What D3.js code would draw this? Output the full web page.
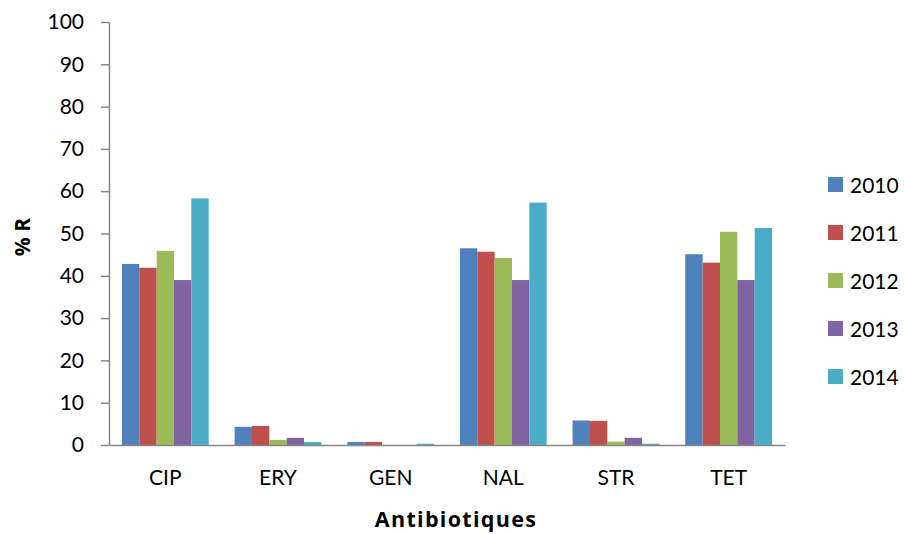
<!DOCTYPE html>
<html>
<head>
<meta charset="utf-8">
<script src="https://cdn.jsdelivr.net/npm/d3@7"></script>
<style>
  html, body { margin: 0; padding: 0; background: #fff; }
  svg { display: block; font-family: Lato, "Open Sans", sans-serif; }
</style>
</head>
<body>
<svg id="chart" width="904" height="534"></svg>
<script>
// Antibiotic resistance (% R) per year
const categories = ["CIP", "ERY", "GEN", "NAL", "STR", "TET"];
const years = ["2010", "2011", "2012", "2013", "2014"];
const values2010 = [42.8, 4.3, 0.7, 46.5, 5.8, 45.1];
const values2011 = [41.9, 4.5, 0.7, 45.7, 5.7, 43.1];
const values2012 = [45.9, 1.2, 0.0, 44.2, 0.8, 50.4];
const values2013 = [39.0, 1.7, 0.0, 39.0, 1.7, 39.0];
const values2014 = [58.3, 0.7, 0.3, 57.3, 0.3, 51.3];
const yTicks = [0, 10, 20, 30, 40, 50, 60, 70, 80, 90, 100];
const colors = ["#4f81bd", "#c0504d", "#9bbb59", "#8064a2", "#4bacc6"];

const series = [values2010, values2011, values2012, values2013, values2014];

const svg = d3.select("#chart");
const margin = { left: 109, right: 119, top: 22, bottom: 89 };
const W = 904, H = 534;
const plotW = W - margin.left - margin.right;
const plotH = H - margin.top - margin.bottom;

const g = svg.append("g").attr("transform", `translate(${margin.left},${margin.top})`);

const x0 = d3.scaleBand().domain(categories).range([0, plotW]).paddingInner(0.23).paddingOuter(0.115);
const x1 = d3.scaleBand().domain(years).range([0, x0.bandwidth()]).padding(0);
const y = d3.scaleLinear().domain([0, 100]).range([plotH, 0]);
const color = d3.scaleOrdinal().domain(years).range(colors);

// Bars
const groups = g.selectAll("g.cat")
  .data(categories)
  .join("g")
  .attr("class", "cat")
  .attr("transform", d => `translate(${x0(d)},0)`);

groups.selectAll("rect")
  .data((c, i) => years.map((yr, k) => ({ year: yr, value: series[k][i] })))
  .join("rect")
  .attr("x", d => x1(d.year))
  .attr("width", x1.bandwidth())
  .attr("y", d => y(d.value))
  .attr("height", d => plotH - y(d.value))
  .attr("fill", d => color(d.year));

// Y axis
const yAxis = g.append("g")
  .call(d3.axisLeft(y).tickValues(yTicks).tickSize(8).tickPadding(17).tickSizeOuter(0));
yAxis.select(".domain").attr("stroke", "#868686").attr("stroke-width", 1.5);
yAxis.selectAll(".tick line").attr("stroke", "#868686").attr("stroke-width", 1.5);
yAxis.selectAll(".tick text").attr("font-size", 21).attr("fill", "#000").attr("font-family", "Lato, sans-serif");

// X axis
const xAxis = g.append("g")
  .attr("transform", `translate(0,${plotH})`)
  .call(d3.axisBottom(x0).tickSize(0).tickPadding(25));
xAxis.select(".domain").attr("stroke", "#868686").attr("stroke-width", 1.5);
xAxis.selectAll(".tick text").attr("font-size", 21).attr("fill", "#000").attr("font-family", "Lato, sans-serif");

// Axis titles
svg.append("text")
  .attr("x", 456).attr("y", 527)
  .attr("text-anchor", "middle")
  .attr("font-family", "'Open Sans', sans-serif")
  .attr("font-size", 21.5).attr("font-weight", "bold")
  .attr("letter-spacing", 1.3)
  .text("Antibiotiques");

svg.append("text")
  .attr("transform", "translate(30,237) rotate(-90)")
  .attr("text-anchor", "middle")
  .attr("font-family", "'Open Sans', sans-serif")
  .attr("font-size", 21).attr("font-weight", "bold")
  .text("% R");

// Legend
const legend = svg.append("g").attr("transform", "translate(828,185)");
const items = legend.selectAll("g")
  .data(years)
  .join("g")
  .attr("transform", (d, i) => `translate(0,${i * 48})`);
items.append("rect")
  .attr("x", 0).attr("y", -8)
  .attr("width", 15).attr("height", 15)
  .attr("fill", d => color(d));
items.append("text")
  .attr("x", 22).attr("y", 0)
  .attr("dy", "0.36em")
  .attr("font-size", 21)
  .text(d => d);
</script>
</body>
</html>
